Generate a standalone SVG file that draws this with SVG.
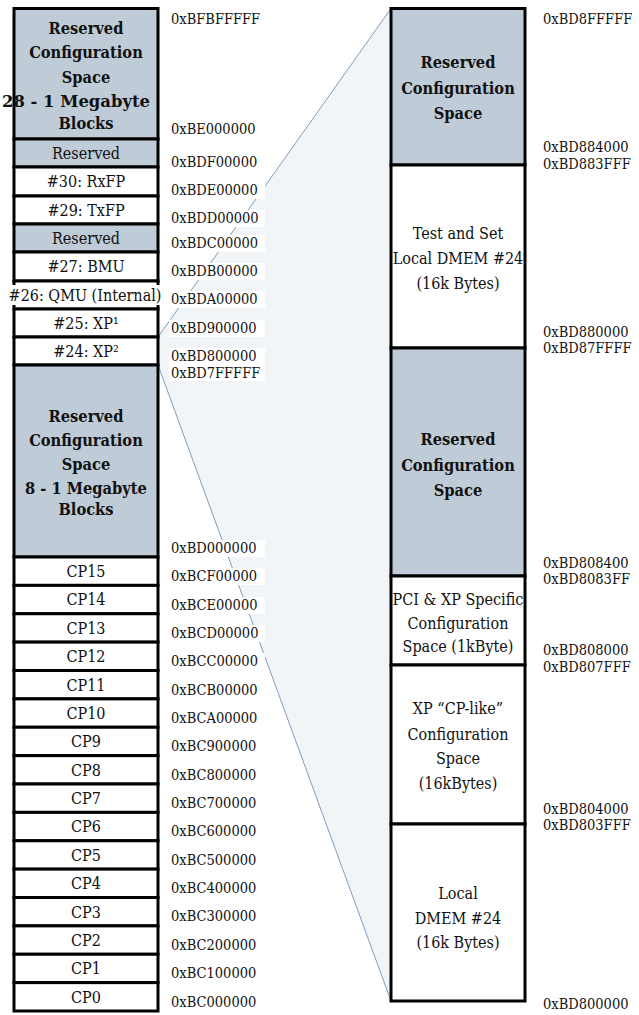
<svg xmlns="http://www.w3.org/2000/svg" width="639" height="1015" viewBox="0 0 639 1015">
<style>
.cell{stroke:#000;stroke-width:3}
.g{fill:#bfcbd6}
.w{fill:#fff}
text{font-family:"DejaVu Serif Condensed","DejaVu Serif","Liberation Serif",serif;fill:#111}
.t{font-size:16px;text-anchor:middle}
.b{font-size:16.3px;font-weight:bold;text-anchor:middle}
.h{font-size:14.5px}
.bg{fill:#fff}
.conn{stroke:#7f9cba;stroke-width:1;fill:none}
</style>
<rect width="639" height="1015" fill="#fff"/>
<g id="connectors">
<polygon points="158,337 391,8.5 391,1001 158,365" fill="#f2f5f8"/>
<line class="conn" x1="158" y1="337" x2="391" y2="8.5"/>
<line class="conn" x1="158" y1="365" x2="391" y2="1001"/>
</g>
<g id="left-reserved-28">
<rect class="cell g" x="14" y="8.5" width="144" height="130.5"/>
<text class="b" x="86" y="33.5">Reserved</text>
<text class="b" x="86" y="57.5">Configuration</text>
<text class="b" x="86" y="83">Space</text>
<text class="b" x="2" y="107" style="text-anchor:start" textLength="148" lengthAdjust="spacingAndGlyphs">28 - 1 Megabyte</text>
<text class="b" x="86" y="128.5">Blocks</text>
</g>
<g id="left-reserved-31"><rect class="cell g" x="14" y="139" width="144" height="28"/><text class="t" x="86" y="159">Reserved</text></g>
<g id="left-rxfp"><rect class="cell w" x="14" y="167" width="144" height="29"/><text class="t" x="86" y="187">#30: RxFP</text></g>
<g id="left-txfp"><rect class="cell w" x="14" y="196" width="144" height="28"/><text class="t" x="86" y="215.5">#29: TxFP</text></g>
<g id="left-reserved-28b"><rect class="cell g" x="14" y="224" width="144" height="28"/><text class="t" x="86" y="243.5">Reserved</text></g>
<g id="left-bmu"><rect class="cell w" x="14" y="252" width="144" height="29"/><text class="t" x="86" y="272">#27: BMU</text></g>
<g id="left-qmu"><rect class="cell w" x="14" y="281" width="144" height="28"/><rect class="bg" x="7" y="285" width="156" height="20"/><text class="t" x="85" y="300.5">#26: QMU (Internal)</text></g>
<g id="left-xp25"><rect class="cell w" x="14" y="309" width="144" height="28"/><text class="t" x="86" y="328.5">#25: XP¹</text></g>
<g id="left-xp24"><rect class="cell w" x="14" y="337" width="144" height="28"/><text class="t" x="86" y="356.5">#24: XP²</text></g>
<g id="left-reserved-8">
<rect class="cell g" x="14" y="365" width="144" height="192"/>
<text class="b" x="86" y="422">Reserved</text>
<text class="b" x="86" y="445.5">Configuration</text>
<text class="b" x="86" y="470">Space</text>
<text class="b" x="86" y="494">8 - 1 Megabyte</text>
<text class="b" x="86" y="515">Blocks</text>
</g>
<g id="left-cp15"><rect class="cell w" x="14" y="557" width="144" height="28.375"/><text class="t" x="86" y="577">CP15</text></g>
<g id="left-cp14"><rect class="cell w" x="14" y="585.375" width="144" height="28.375"/><text class="t" x="86" y="605.4">CP14</text></g>
<g id="left-cp13"><rect class="cell w" x="14" y="613.75" width="144" height="28.375"/><text class="t" x="86" y="633.75">CP13</text></g>
<g id="left-cp12"><rect class="cell w" x="14" y="642.125" width="144" height="28.375"/><text class="t" x="86" y="662.1">CP12</text></g>
<g id="left-cp11"><rect class="cell w" x="14" y="670.5" width="144" height="28.375"/><text class="t" x="86" y="690.5">CP11</text></g>
<g id="left-cp10"><rect class="cell w" x="14" y="698.875" width="144" height="28.375"/><text class="t" x="86" y="718.9">CP10</text></g>
<g id="left-cp9"><rect class="cell w" x="14" y="727.25" width="144" height="28.375"/><text class="t" x="86" y="747.25">CP9</text></g>
<g id="left-cp8"><rect class="cell w" x="14" y="755.625" width="144" height="28.375"/><text class="t" x="86" y="775.6">CP8</text></g>
<g id="left-cp7"><rect class="cell w" x="14" y="784" width="144" height="28.375"/><text class="t" x="86" y="804">CP7</text></g>
<g id="left-cp6"><rect class="cell w" x="14" y="812.375" width="144" height="28.375"/><text class="t" x="86" y="832.4">CP6</text></g>
<g id="left-cp5"><rect class="cell w" x="14" y="840.75" width="144" height="28.375"/><text class="t" x="86" y="860.75">CP5</text></g>
<g id="left-cp4"><rect class="cell w" x="14" y="869.125" width="144" height="28.375"/><text class="t" x="86" y="889.1">CP4</text></g>
<g id="left-cp3"><rect class="cell w" x="14" y="897.5" width="144" height="28.375"/><text class="t" x="86" y="917.5">CP3</text></g>
<g id="left-cp2"><rect class="cell w" x="14" y="925.875" width="144" height="28.375"/><text class="t" x="86" y="945.9">CP2</text></g>
<g id="left-cp1"><rect class="cell w" x="14" y="954.25" width="144" height="28.375"/><text class="t" x="86" y="974.25">CP1</text></g>
<g id="left-cp0"><rect class="cell w" x="14" y="982.625" width="144" height="28.375"/><text class="t" x="86" y="1002.6">CP0</text></g>
<g id="right-reserved-top">
<rect class="cell g" x="391" y="8.5" width="134" height="156.5"/>
<text class="b" x="458" y="67.5">Reserved</text>
<text class="b" x="458" y="93.5">Configuration</text>
<text class="b" x="458" y="119">Space</text>
</g>
<g id="right-testset">
<rect class="cell w" x="391" y="165" width="134" height="183"/>
<text class="t" x="458" y="239">Test and Set</text>
<text class="t" x="458" y="264">Local DMEM #24</text>
<text class="t" x="458" y="289">(16k Bytes)</text>
</g>
<g id="right-reserved-mid">
<rect class="cell g" x="391" y="348" width="134" height="228"/>
<text class="b" x="458" y="444.5">Reserved</text>
<text class="b" x="458" y="470.5">Configuration</text>
<text class="b" x="458" y="496">Space</text>
</g>
<g id="right-pci">
<rect class="cell w" x="391" y="576" width="134" height="89"/>
<text class="t" x="458" y="605">PCI &amp; XP Specific</text>
<text class="t" x="458" y="629">Configuration</text>
<text class="t" x="458" y="652">Space (1kByte)</text>
</g>
<g id="right-cplike">
<rect class="cell w" x="391" y="665" width="134" height="159"/>
<text class="t" x="458" y="714">XP “CP-like”</text>
<text class="t" x="458" y="740">Configuration</text>
<text class="t" x="458" y="764">Space</text>
<text class="t" x="458" y="789">(16kBytes)</text>
</g>
<g id="right-local">
<rect class="cell w" x="391" y="824" width="134" height="177"/>
<text class="t" x="458" y="899">Local</text>
<text class="t" x="458" y="924">DMEM #24</text>
<text class="t" x="458" y="948">(16k Bytes)</text>
</g>
<g id="left-addresses">
<rect class="bg" x="169" y="11" width="96" height="17"/><text class="h" x="171" y="24">0xBFBFFFFF</text>
<rect class="bg" x="169" y="121" width="96" height="17"/><text class="h" x="171" y="134">0xBE000000</text>
<rect class="bg" x="169" y="154" width="96" height="17"/><text class="h" x="171" y="167">0xBDF00000</text>
<rect class="bg" x="169" y="182" width="96" height="17"/><text class="h" x="171" y="195">0xBDE00000</text>
<rect class="bg" x="169" y="210" width="96" height="17"/><text class="h" x="171" y="223">0xBDD00000</text>
<rect class="bg" x="169" y="235" width="96" height="17"/><text class="h" x="171" y="248">0xBDC00000</text>
<rect class="bg" x="169" y="263" width="96" height="17"/><text class="h" x="171" y="276">0xBDB00000</text>
<rect class="bg" x="169" y="291" width="96" height="17"/><text class="h" x="171" y="304">0xBDA00000</text>
<rect class="bg" x="169" y="320" width="96" height="17"/><text class="h" x="171" y="333">0xBD900000</text>
<rect class="bg" x="169" y="348" width="96" height="17"/><text class="h" x="171" y="361">0xBD800000</text>
<rect class="bg" x="169" y="365" width="96" height="16"/><text class="h" x="171" y="378">0xBD7FFFFF</text>
<rect class="bg" x="169" y="540" width="96" height="17"/><text class="h" x="171" y="553">0xBD000000</text>
<rect class="bg" x="169" y="568" width="96" height="17"/><text class="h" x="171" y="581">0xBCF00000</text>
<rect class="bg" x="169" y="597" width="96" height="17"/><text class="h" x="171" y="610">0xBCE00000</text>
<rect class="bg" x="169" y="625" width="96" height="17"/><text class="h" x="171" y="638">0xBCD00000</text>
<rect class="bg" x="169" y="653" width="96" height="17"/><text class="h" x="171" y="666">0xBCC00000</text>
<text class="h" x="171" y="695">0xBCB00000</text>
<text class="h" x="171" y="723">0xBCA00000</text>
<text class="h" x="171" y="751">0xBC900000</text>
<text class="h" x="171" y="780">0xBC800000</text>
<text class="h" x="171" y="808">0xBC700000</text>
<text class="h" x="171" y="836">0xBC600000</text>
<text class="h" x="171" y="865">0xBC500000</text>
<text class="h" x="171" y="893">0xBC400000</text>
<text class="h" x="171" y="921">0xBC300000</text>
<text class="h" x="171" y="950">0xBC200000</text>
<text class="h" x="171" y="978">0xBC100000</text>
<text class="h" x="171" y="1007">0xBC000000</text>
</g>
<g id="right-addresses">
<text class="h" x="543" y="24">0xBD8FFFFF</text>
<text class="h" x="543" y="152">0xBD884000</text>
<text class="h" x="543" y="169">0xBD883FFF</text>
<text class="h" x="543" y="337">0xBD880000</text>
<text class="h" x="543" y="353">0xBD87FFFF</text>
<text class="h" x="543" y="568">0xBD808400</text>
<text class="h" x="543" y="584">0xBD8083FF</text>
<text class="h" x="543" y="655">0xBD808000</text>
<text class="h" x="543" y="672">0xBD807FFF</text>
<text class="h" x="543" y="814">0xBD804000</text>
<text class="h" x="543" y="830">0xBD803FFF</text>
<text class="h" x="543" y="1009">0xBD800000</text>
</g>
</svg>
